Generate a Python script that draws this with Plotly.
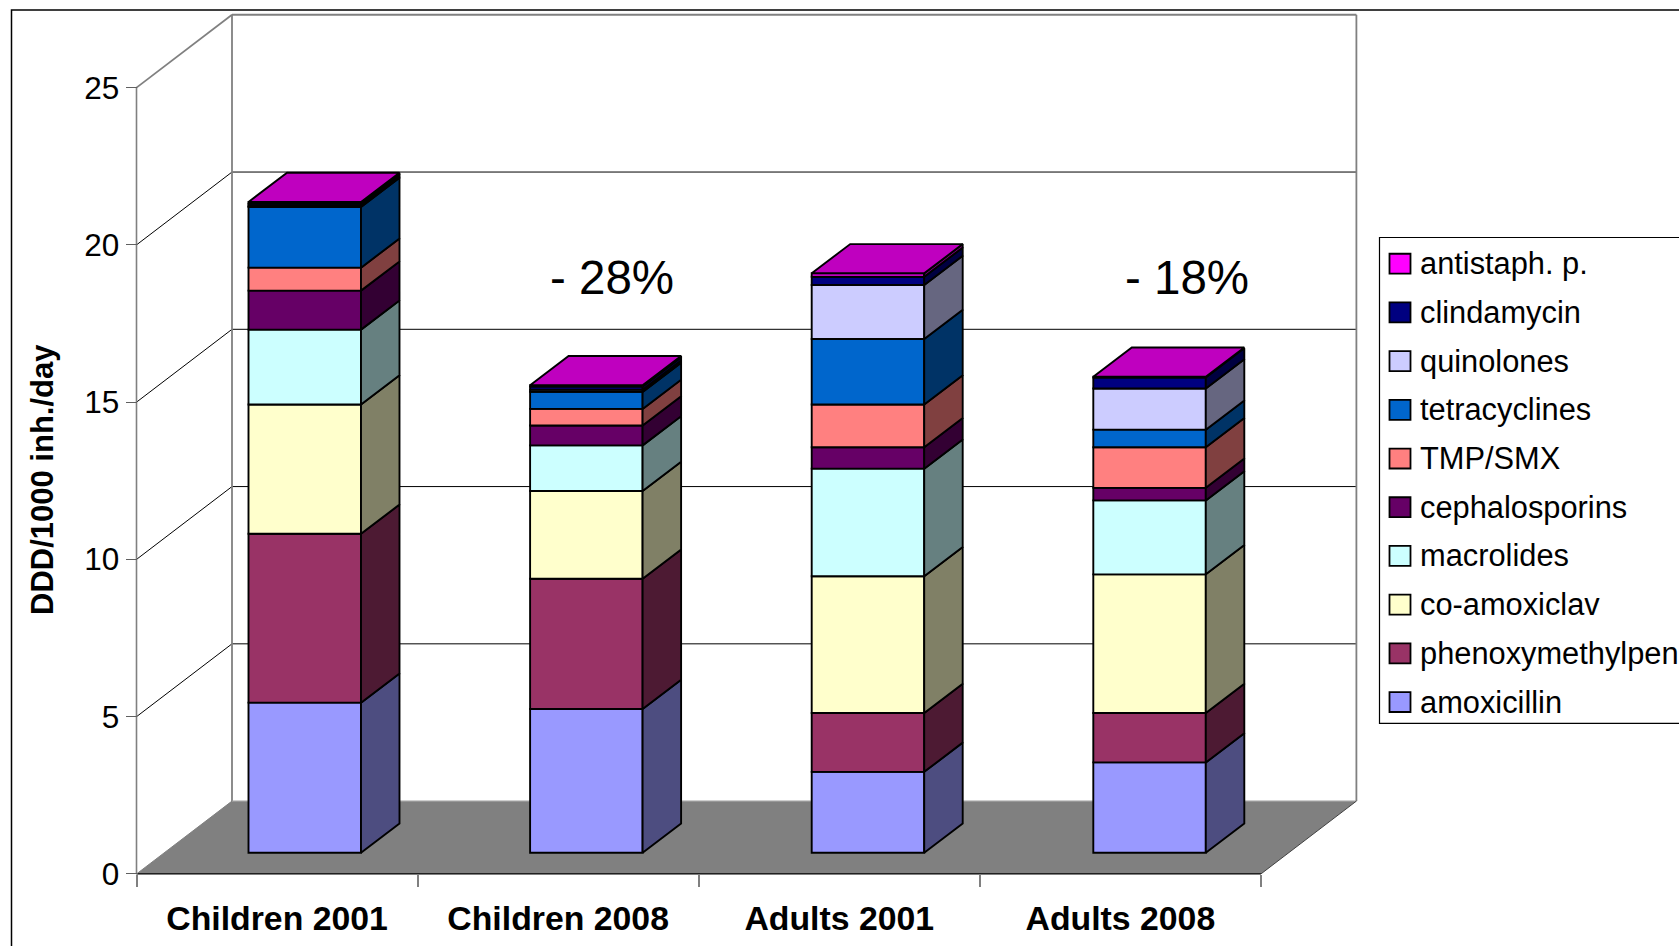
import plotly.graph_objects as go

categories = ["Children 2001", "Children 2008", "Adults 2001", "Adults 2008"]
amoxicillin = [4.77, 4.57, 2.57, 2.87]
phenoxymethylpen = [5.37, 4.14, 1.87, 1.57]
co_amoxiclav = [4.11, 2.79, 4.35, 4.41]
macrolides = [2.38, 1.45, 3.42, 2.35]
cephalosporins = [1.24, 0.63, 0.68, 0.40]
tmp_smx = [0.73, 0.53, 1.36, 1.29]
tetracyclines = [1.93, 0.54, 2.08, 0.56]
quinolones = [0.03, 0.07, 1.72, 1.31]
clindamycin = [0.07, 0.10, 0.26, 0.35]
antistaph = [0.06, 0.04, 0.11, 0.02]

series_names = ["amoxicillin", "phenoxymethylpen.", "co-amoxiclav", "macrolides", "cephalosporins",
                "TMP/SMX", "tetracyclines", "quinolones", "clindamycin", "antistaph. p."]
series_values = [amoxicillin, phenoxymethylpen, co_amoxiclav, macrolides, cephalosporins,
                 tmp_smx, tetracyclines, quinolones, clindamycin, antistaph]
front_colors = ["#9999FF", "#993366", "#FFFFCC", "#CCFFFF", "#660066",
                "#FF8080", "#0066CC", "#CCCCFF", "#000080", "#FF00FF"]
side_colors = ["#4D4D80", "#4D1A33", "#808066", "#668080", "#330033",
               "#804040", "#003366", "#666680", "#000040", "#800080"]
top_color = "#BF00BF"
y_ticks = [0, 5, 10, 15, 20, 25]
notes = [("- 28%", 611.5), ("- 18%", 1186.5)]

W, H = 1679, 956
SY = 956 / 948
FONT = "Liberation Sans"
EDGE = 1.9
# pixel geometry of the pseudo-3D projection
X0, Y0 = 136.5, 875.8
CAT_PX, UNIT_PX = 281.1, 31.52
WALL_DX, WALL_DY = 95.5 / CAT_PX, 73.0 / UNIT_PX
BAR_L, BAR_W = 112.0 / CAT_PX, 112.5 / CAT_PX
BAR_PITCH = 281.6 / CAT_PX
BAR_DX, BAR_DY = 38.5 / CAT_PX, 29.3 / UNIT_PX
BAR_BASE = 21.3 / UNIT_PX
N = len(categories)
YMAX = 25
PL, PR, PT, PB = 128, 1364, 8, 884

fig = go.Figure()

# stacked fronts
lefts = [i * BAR_PITCH + BAR_L for i in range(N)]
bases = [BAR_BASE] * N
stack = []
for name, vals, col in zip(series_names, series_values, front_colors):
    fig.add_bar(x=[l + BAR_W / 2 for l in lefts], y=vals, base=list(bases), width=BAR_W,
                name=name, marker=dict(color=col, line=dict(color="black", width=EDGE)),
                showlegend=False)
    tops = [b + v for b, v in zip(bases, vals)]
    stack.append((list(bases), tops))
    bases = tops

# side faces
for (bot, top), name, col in zip(stack, series_names, side_colors):
    xs, ys = [], []
    for i in range(N):
        r = lefts[i] + BAR_W
        xs += [r, r + BAR_DX, r + BAR_DX, r, r, None]
        ys += [bot[i], bot[i] + BAR_DY, top[i] + BAR_DY, top[i], bot[i], None]
    fig.add_scatter(x=xs, y=ys, mode="lines", fill="toself", fillcolor=col,
                    line=dict(color="black", width=EDGE), showlegend=False,
                    hoverinfo="skip", name=name + " side")

# top faces
xs, ys = [], []
tops = stack[-1][1]
for i in range(N):
    l, r = lefts[i], lefts[i] + BAR_W
    xs += [l, r, r + BAR_DX, l + BAR_DX, l, None]
    ys += [tops[i], tops[i], tops[i] + BAR_DY, tops[i] + BAR_DY, tops[i], None]
fig.add_scatter(x=xs, y=ys, mode="lines", fill="toself", fillcolor=top_color,
                line=dict(color="black", width=EDGE), showlegend=False, hoverinfo="skip",
                name="top")

shapes = []
def seg(x0, y0, x1, y1, color, width):
    shapes.append(dict(type="line", xref="x", yref="y", x0=x0, y0=y0, x1=x1, y1=y1,
                       line=dict(color=color, width=width), layer="below"))

# floor
shapes.append(dict(type="path", xref="x", yref="y", layer="below",
                   path=f"M0,0 L{N},0 L{N + WALL_DX},{WALL_DY} L{WALL_DX},{WALL_DY} Z",
                   fillcolor="#808080", line=dict(width=0)))
# grid on both walls
for v in y_ticks[1:-1]:
    seg(0, v, WALL_DX, v + WALL_DY, "black", 1)
    seg(WALL_DX, v + WALL_DY, N + WALL_DX, v + WALL_DY, "black", 1)
# frame of the walls
seg(0, YMAX, WALL_DX, YMAX + WALL_DY, "#808080", 1.8)
seg(WALL_DX, YMAX + WALL_DY, N + WALL_DX, YMAX + WALL_DY, "#808080", 1.8)
seg(WALL_DX, WALL_DY, WALL_DX, YMAX + WALL_DY, "#808080", 1.8)
seg(N + WALL_DX, WALL_DY, N + WALL_DX, YMAX + WALL_DY, "#808080", 1.8)
seg(WALL_DX, WALL_DY, N + WALL_DX, WALL_DY, "#A0A0A0", 1.2)
seg(0, 0, 0, YMAX, "#808080", 1.6)
seg(0, 0, N, 0, "black", 1.2)
seg(N, 0, N + WALL_DX, WALL_DY, "#404040", 1)
seg(0, 0, WALL_DX, WALL_DY, "#808080", 1)

def px(x): return x / W
def py(y): return 1 - y * SY / H

# outer chart frame, open at the bottom and right
shapes.append(dict(type="path", xref="paper", yref="paper",
                   path=f"M{px(11.5)},0 L{px(11.5)},{py(10)} L{px(1679)},{py(10)}",
                   line=dict(color="black", width=1.5)))

annotations = [dict(text=t, xref="paper", yref="paper", x=px(cx), y=py(278), showarrow=False,
                    xanchor="center", yanchor="middle", font=dict(family=FONT, size=47.5, color="black"))
               for t, cx in notes]
annotations.append(dict(text="<b>DDD/1000 inh./day</b>", xref="paper", yref="paper", x=px(43), y=py(481),
                        textangle=-90, showarrow=False, xanchor="center", yanchor="middle",
                        font=dict(family=FONT, size=31, color="black")))

# legend box, running off the right edge of the page
shapes.append(dict(type="rect", xref="paper", yref="paper", x0=px(1379.5), x1=px(1700),
                   y0=py(725), y1=py(238), fillcolor="white", line=dict(color="black", width=1.2)))
for i, (name, col) in enumerate(zip(series_names[::-1], front_colors[::-1])):
    cy = 264.3 + i * 48.8
    shapes.append(dict(type="rect", xref="paper", yref="paper", x0=px(1389.5), x1=px(1410.5),
                       y0=py(cy + 10), y1=py(cy - 10), fillcolor=col, line=dict(color="black", width=1.8)))
    annotations.append(dict(text=name, xref="paper", yref="paper", x=px(1418), y=py(cy), showarrow=False,
                            xanchor="left", yanchor="middle", font=dict(family=FONT, size=30.8, color="black")))

fig.update_layout(
    width=W, height=H, autosize=False, margin=dict(l=0, r=0, t=0, b=0),
    paper_bgcolor="white", plot_bgcolor="rgba(0,0,0,0)", barmode="overlay",
    showlegend=False, shapes=shapes, annotations=annotations,
    font=dict(family=FONT, color="black"),
    xaxis=dict(domain=[px(PL), px(PR)], range=[(PL - X0) / CAT_PX, (PR - X0) / CAT_PX],
               anchor="free", position=py(Y0), showgrid=False, zeroline=False, showline=False,
               tickmode="array", tickvals=[i + 0.5 for i in range(N)],
               ticktext=[f"<b>{c}</b>" for c in categories],
               ticks="outside", ticklen=14, tickcolor="rgba(0,0,0,0)", tickwidth=1,
               tickfont=dict(family=FONT, size=33.8, color="black"),
               minor=dict(tickmode="array", tickvals=list(range(N + 1)), ticks="outside",
                          ticklen=12.5, tickcolor="#808080", tickwidth=1.6, showgrid=False)),
    yaxis=dict(domain=[py(PB), py(PT)], range=[(Y0 - PB) / UNIT_PX, (Y0 - PT) / UNIT_PX],
               anchor="free", position=px(X0), showgrid=False, zeroline=False, showline=False,
               tickmode="array", tickvals=y_ticks, ticks="outside", ticklen=11,
               tickcolor="#606060", tickwidth=1.2,
               tickfont=dict(family=FONT, size=31.5, color="black")),
)

fig.write_html("out.html", config=dict(displayModeBar=False, responsive=False),
               default_width=f"{W}px", default_height=f"{H}px",
               post_script="document.body.style.margin='0';document.body.style.overflow='hidden';")
